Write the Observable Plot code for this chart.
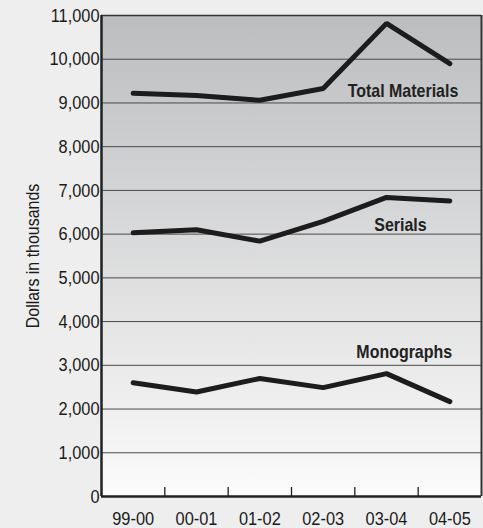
<!DOCTYPE html>
<html><head><meta charset="utf-8">
<script src="https://cdn.jsdelivr.net/npm/d3@7"></script>
<script src="https://cdn.jsdelivr.net/npm/@observablehq/plot@0.6"></script>
<style>
html,body{margin:0;padding:0;background:#eeeeee;}
#chart svg{display:block}
</style></head><body><div id="chart"></div>
<script>
const categories = ["99-00", "00-01", "01-02", "02-03", "03-04", "04-05"];
const totalMaterials = [9220, 9170, 9060, 9330, 10820, 9900];
const serials = [6030, 6100, 5840, 6290, 6840, 6760];
const monographs = [2600, 2390, 2700, 2490, 2810, 2170];
const yTicks = [0, 1000, 2000, 3000, 4000, 5000, 6000, 7000, 8000, 9000, 10000, 11000];
const seriesNames = ["Total Materials", "Serials", "Monographs"];
// label anchors: category index and value
const labelIndex = [4.26, 4.22, 4.28];
const labelValue = [9270, 6220, 3300];
const yLabel = "Dollars in thousands";

const seriesValues = [totalMaterials, serials, monographs];
const rows = [];
seriesNames.forEach((name, s) => seriesValues[s].forEach((v, i) => rows.push({series: name, i, value: v})));
const labels = seriesNames.map((name, s) => ({name, i: labelIndex[s], value: labelValue[s]}));
const idx = categories.map((_, i) => i);
const boundaries = idx.slice(1).map(i => i - 0.5);
const n = categories.length;

const font = "'Liberation Sans', Arial, Helvetica, sans-serif";
const svg = Plot.plot({
  width: 483, height: 528,
  marginLeft: 101, marginRight: 2, marginTop: 15, marginBottom: 32,
  style: {background: "#eeeeee", fontFamily: font, fontSize: "19px", color: "#1a1a1a"},
  x: {type: "linear", domain: [-0.5, n - 0.5], ticks: idx, tickFormat: i => categories[i], tickSize: 0, tickPadding: 15, label: null},
  y: {domain: [0, 11000], ticks: yTicks, tickFormat: d3.format(","), tickSize: 0, tickPadding: 2, label: null},
  marks: [
    Plot.frame({fill: "url(#bgGrad)", stroke: null}),
    Plot.ruleY(yTicks.slice(1, -1), {stroke: "#4a4a4a", strokeWidth: 1}),
    Plot.ruleY([yTicks[yTicks.length - 1]], {stroke: "#333", strokeWidth: 1.3}),
    Plot.ruleX(boundaries, {x: d => d, y1: 0, y2: 0, insetTop: -9, stroke: "#222", strokeWidth: 1.3}),
    Plot.line(rows, {x: "i", y: "value", z: "series", stroke: "#1c1c1c", strokeWidth: 5, strokeLinejoin: "miter"}),
    Plot.ruleX([-0.5], {stroke: "#222", strokeWidth: 2.5}),
    Plot.ruleX([n - 0.5], {stroke: "#333", strokeWidth: 2}),
    Plot.ruleY([0], {stroke: "#222", strokeWidth: 2.5}),
    Plot.text(labels, {x: "i", y: "value", text: "name", fontWeight: "bold", fontSize: 19, fill: "#222"}),
    Plot.text([yLabel], {frameAnchor: "left", textAnchor: "middle", rotate: -90, dx: -69, fontSize: 19, fill: "#1a1a1a"})
  ]
});
const defs = d3.select(svg).insert("defs", ":first-child");
const grad = defs.append("linearGradient").attr("id", "bgGrad").attr("x1", 0).attr("y1", 0).attr("x2", 0).attr("y2", 1);
grad.append("stop").attr("offset", 0).attr("stop-color", "#bcbdbf");
grad.append("stop").attr("offset", 1).attr("stop-color", "#fbfbfb");
document.getElementById("chart").appendChild(svg);
// condense glyphs to mimic a condensed typeface
d3.select(svg).selectAll("text").each(function () {
  const t = this.getAttribute("transform") || "";
  if (t.includes("rotate")) {
    this.setAttribute("transform", t + " scale(0.84,1)");
    return;
  }
  const fw = getComputedStyle(this).fontWeight;
  const bold = fw === "bold" || +fw >= 600;
  const L = this.getComputedTextLength();
  if (L > 0) {
    this.setAttribute("textLength", (L * (bold ? 0.84 : 0.86)).toFixed(2));
    this.setAttribute("lengthAdjust", "spacingAndGlyphs");
  }
});
</script>
</body></html>
